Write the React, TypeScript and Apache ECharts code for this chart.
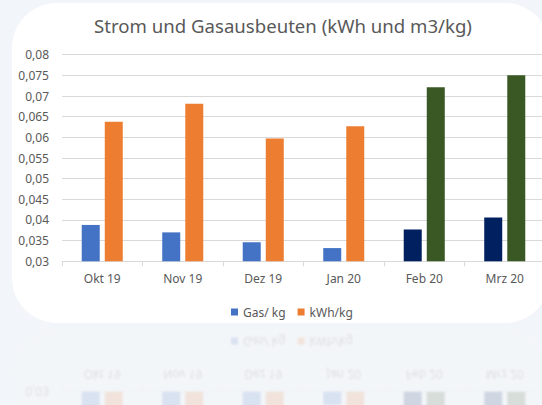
import React, { useEffect, useRef } from "react";
import * as echarts from "echarts";

const categories = ["Okt 19", "Nov 19", "Dez 19", "Jan 20", "Feb 20", "Mrz 20"];
const gasValues = [0.0388, 0.037, 0.0346, 0.0332, 0.0377, 0.0406];
const kwhValues = [0.0638, 0.0681, 0.0597, 0.0627, 0.0721, 0.075];
const seriesNames = ["Gas/ kg", "kWh/kg"];
const highlightFrom = 4; // Feb 20 and later shown in darker colours
const yMin = 0.03;
const yMax = 0.08;
const yStep = 0.005;

const GAS = "#4472C4";
const GAS_DARK = "#002060";
const KWH = "#ED7D31";
const KWH_DARK = "#3A5823";
const TEXT = "#595959";
const GRID = "#D9D9D9";
const FONT = "'Noto Sans', 'Open Sans', sans-serif";

function fmt(v: number) {
  return String(Number(v.toFixed(3))).replace(".", ",");
}

function buildOption(reflection: boolean): echarts.EChartsOption {
  const mk = (vals: number[], dark: string) =>
    vals.map((v, i) => (i >= highlightFrom ? { value: v, itemStyle: { color: dark } } : { value: v }));
  return {
    animation: false,
    textStyle: { fontFamily: FONT },
    title: reflection
      ? { show: false }
      : {
          text: "Strom und Gasausbeuten (kWh und m3/kg)",
          left: "center",
          top: 11,
          textStyle: { color: TEXT, fontSize: 18.6, fontWeight: "normal", fontFamily: FONT },
        },
    legend: {
      data: seriesNames,
      left: 226,
      top: 301,
      icon: "rect",
      itemWidth: 7,
      itemHeight: 7,
      itemGap: 12,
      textStyle: { color: TEXT, fontSize: 12, fontFamily: FONT },
    },
    grid: { left: 62, top: 54.7, width: 483, height: 206.6, containLabel: false },
    xAxis: {
      type: "category",
      data: categories,
      axisLine: { show: true, lineStyle: { color: GRID } },
      axisTick: { show: true, alignWithLabel: false, length: 5, lineStyle: { color: GRID } },
      axisLabel: { color: TEXT, fontSize: 12, margin: 11, fontFamily: FONT },
      splitLine: { show: false },
    },
    yAxis: {
      type: "value",
      min: yMin,
      max: yMax,
      interval: yStep,
      axisLine: { show: false },
      axisTick: { show: false },
      splitLine: { show: true, lineStyle: { color: GRID, width: 1 } },
      axisLabel: {
        color: TEXT,
        fontSize: 12,
        margin: 13,
        fontFamily: FONT,
        formatter: (v: number) => (reflection && Math.abs(v - yMin) > 1e-9 ? "" : fmt(v)),
      },
    },
    series: [
      {
        name: seriesNames[0],
        type: "bar",
        data: mk(gasValues, GAS_DARK),
        itemStyle: { color: GAS },
        barWidth: 18,
        barGap: "28%",
      },
      {
        name: seriesNames[1],
        type: "bar",
        data: mk(kwhValues, KWH_DARK),
        itemStyle: { color: KWH },
        barWidth: 18,
        barGap: "28%",
      },
    ],
  };
}

function Card({ chartRef }: { chartRef: React.RefObject<HTMLDivElement | null> }) {
  return (
    <>
      <div
        style={{
          position: "absolute",
          left: 12,
          top: 3,
          width: 538,
          height: 320,
          borderRadius: 45,
          background: "#ffffff",
        }}
      />
      <div ref={chartRef} style={{ position: "absolute", left: 0, top: 0, width: 566, height: 330 }} />
    </>
  );
}

export default function App() {
  const mainRef = useRef<HTMLDivElement | null>(null);
  const reflRef = useRef<HTMLDivElement | null>(null);

  useEffect(() => {
    const charts: echarts.ECharts[] = [];
    if (mainRef.current) {
      const c = echarts.init(mainRef.current, undefined, { renderer: "svg" });
      c.setOption(buildOption(false));
      charts.push(c);
    }
    if (reflRef.current) {
      const c = echarts.init(reflRef.current, undefined, { renderer: "svg" });
      c.setOption(buildOption(true));
      charts.push(c);
    }
    return () => charts.forEach((c) => c.dispose());
  }, []);

  return (
    <div
      style={{
        position: "fixed",
        left: 0,
        top: 0,
        width: 542,
        height: 405,
        overflow: "hidden",
        background: "#F2F5F9",
      }}
    >
      <div
        style={{
          position: "absolute",
          left: 0,
          top: 0,
          width: 566,
          height: 330,
          transform: "scaleY(-1)",
          transformOrigin: "0 326.5px",
          opacity: 0.14,
          filter: "blur(1px)",
        }}
      >
        <Card chartRef={reflRef} />
      </div>
      <div style={{ position: "absolute", left: 0, top: 0, width: 566, height: 330 }}>
        <Card chartRef={mainRef} />
      </div>
    </div>
  );
}
